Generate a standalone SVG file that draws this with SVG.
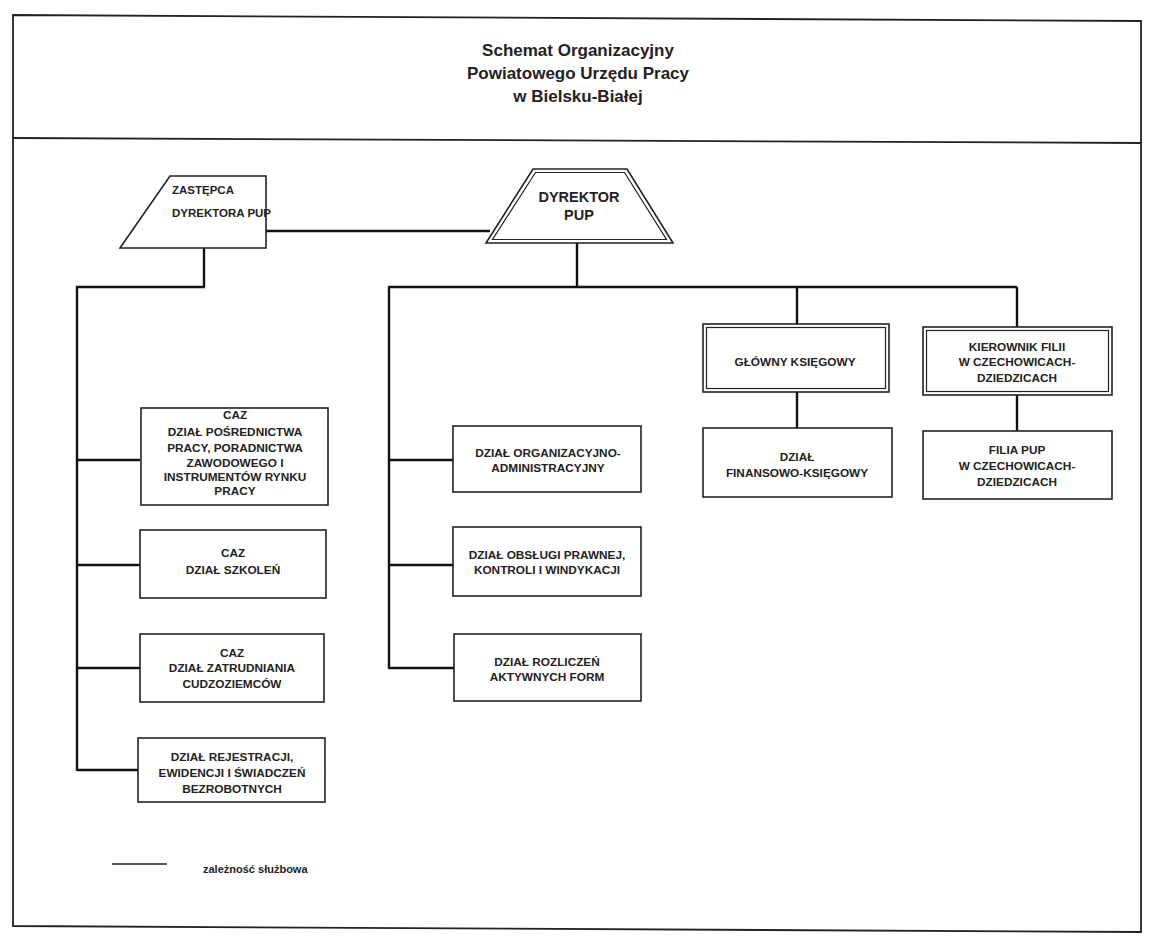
<svg xmlns="http://www.w3.org/2000/svg" width="1169" height="947" viewBox="0 0 1169 947">
<style>
.frame{fill:none;stroke:#222;stroke-width:1.8}
.box{fill:#fff;stroke:#222;stroke-width:1.6}
.dbl{fill:none;stroke:#222;stroke-width:1.2}
.conn{fill:none;stroke:#111;stroke-width:2.4}
.t{font-family:"Liberation Sans",Arial,sans-serif;font-weight:bold;font-size:11.8px;fill:#222;text-anchor:middle}
.title{font-family:"Liberation Sans",Arial,sans-serif;font-weight:bold;font-size:17px;fill:#222;text-anchor:middle}
.big{font-family:"Liberation Sans",Arial,sans-serif;font-weight:bold;font-size:14.5px;fill:#222;text-anchor:middle}
.leg{font-family:"Liberation Sans",Arial,sans-serif;font-weight:bold;font-size:11px;fill:#222}
</style>
<rect width="1169" height="947" fill="#fff"/>
<g id="frame">
<polygon class="frame" points="13,15 1141,21 1141,932 13,926"/>
<line class="frame" x1="13" y1="138" x2="1141" y2="143"/>
</g>
<g id="title">
<text class="title" x="578" y="56">Schemat Organizacyjny</text>
<text class="title" x="578" y="79">Powiatowego Urzędu Pracy</text>
<text class="title" x="578" y="102">w Bielsku-Białej</text>
</g>
<g id="connectors">
<line class="conn" x1="266" y1="231" x2="490" y2="231"/>
<line class="conn" x1="577" y1="243" x2="577" y2="287"/>
<line class="conn" x1="389" y1="287" x2="1017" y2="287"/>
<line class="conn" x1="797" y1="287" x2="797" y2="324"/>
<line class="conn" x1="1017" y1="287" x2="1017" y2="327"/>
<line class="conn" x1="389" y1="286" x2="389" y2="669"/>
<line class="conn" x1="389" y1="460" x2="453" y2="460"/>
<line class="conn" x1="389" y1="565" x2="453" y2="565"/>
<line class="conn" x1="389" y1="668" x2="454" y2="668"/>
<line class="conn" x1="204" y1="248" x2="204" y2="287"/>
<line class="conn" x1="76" y1="287" x2="205" y2="287"/>
<line class="conn" x1="77" y1="286" x2="77" y2="771"/>
<line class="conn" x1="77" y1="460" x2="140" y2="460"/>
<line class="conn" x1="77" y1="565" x2="140" y2="565"/>
<line class="conn" x1="77" y1="668" x2="140" y2="668"/>
<line class="conn" x1="77" y1="770" x2="138" y2="770"/>
<line class="conn" x1="797" y1="392" x2="797" y2="428"/>
<line class="conn" x1="1017" y1="395" x2="1017" y2="431"/>
</g>
<g id="zastepca">
<polygon class="box" points="170,176 266,176 266,248 120,248"/>
<text class="t" x="172" y="194" style="text-anchor:start;font-size:11.5px">ZASTĘPCA</text>
<text class="t" x="172" y="217" style="text-anchor:start;font-size:11.5px">DYREKTORA PUP</text>
</g>
<g id="dyrektor">
<polygon class="box" points="533,169 627,169 673,243 486,243"/>
<polygon class="dbl" points="535.5,172.5 624.5,172.5 666.5,239.5 492.5,239.5"/>
<text class="big" x="579" y="202">DYREKTOR</text>
<text class="big" x="579" y="220">PUP</text>
</g>
<g id="glowny">
<rect class="box" x="703" y="324" width="186" height="68"/>
<rect class="dbl" x="706.5" y="327.5" width="179" height="61"/>
<text class="t" x="795" y="366">GŁÓWNY KSIĘGOWY</text>
</g>
<g id="finansowy">
<rect class="box" x="703" y="428" width="189" height="69"/>
<text class="t" x="797" y="461">DZIAŁ</text>
<text class="t" x="797" y="477">FINANSOWO-KSIĘGOWY</text>
</g>
<g id="kierownik">
<rect class="box" x="923" y="327" width="189" height="68"/>
<rect class="dbl" x="926.5" y="330.5" width="182" height="61"/>
<text class="t" x="1017" y="351">KIEROWNIK FILII</text>
<text class="t" x="1017" y="366">W CZECHOWICACH-</text>
<text class="t" x="1017" y="382">DZIEDZICACH</text>
</g>
<g id="filia">
<rect class="box" x="923" y="431" width="189" height="68"/>
<text class="t" x="1017" y="454">FILIA PUP</text>
<text class="t" x="1017" y="470">W CZECHOWICACH-</text>
<text class="t" x="1017" y="486">DZIEDZICACH</text>
</g>
<g id="organizacyjny">
<rect class="box" x="453" y="426" width="188" height="66"/>
<text class="t" x="548" y="457">DZIAŁ ORGANIZACYJNO-</text>
<text class="t" x="548" y="472">ADMINISTRACYJNY</text>
</g>
<g id="obslugi">
<rect class="box" x="453" y="527" width="188" height="69"/>
<text class="t" x="547" y="559">DZIAŁ OBSŁUGI PRAWNEJ,</text>
<text class="t" x="547" y="574">KONTROLI I WINDYKACJI</text>
</g>
<g id="rozliczen">
<rect class="box" x="454" y="634" width="187" height="67"/>
<text class="t" x="547" y="666">DZIAŁ ROZLICZEŃ</text>
<text class="t" x="547" y="681">AKTYWNYCH FORM</text>
</g>
<g id="posrednictwa">
<rect class="box" x="141" y="408" width="187" height="97"/>
<text class="t" x="235" y="419">CAZ</text>
<text class="t" x="235" y="436">DZIAŁ POŚREDNICTWA</text>
<text class="t" x="235" y="452">PRACY, PORADNICTWA</text>
<text class="t" x="235" y="467">ZAWODOWEGO I</text>
<text class="t" x="235" y="481">INSTRUMENTÓW RYNKU</text>
<text class="t" x="235" y="495">PRACY</text>
</g>
<g id="szkolen">
<rect class="box" x="140" y="530" width="186" height="68"/>
<text class="t" x="233" y="557">CAZ</text>
<text class="t" x="233" y="574">DZIAŁ SZKOLEŃ</text>
</g>
<g id="cudzoziemcow">
<rect class="box" x="140" y="634" width="184" height="68"/>
<text class="t" x="232" y="657">CAZ</text>
<text class="t" x="232" y="672">DZIAŁ ZATRUDNIANIA</text>
<text class="t" x="232" y="688">CUDZOZIEMCÓW</text>
</g>
<g id="rejestracji">
<rect class="box" x="138" y="738" width="187" height="64"/>
<text class="t" x="232" y="761">DZIAŁ REJESTRACJI,</text>
<text class="t" x="232" y="777">EWIDENCJI I ŚWIADCZEŃ</text>
<text class="t" x="232" y="793">BEZROBOTNYCH</text>
</g>
<g id="legend">
<line x1="112" y1="864" x2="167" y2="864" stroke="#222" stroke-width="1.6"/>
<text class="leg" x="203" y="873">zależność służbowa</text>
</g>
</svg>
